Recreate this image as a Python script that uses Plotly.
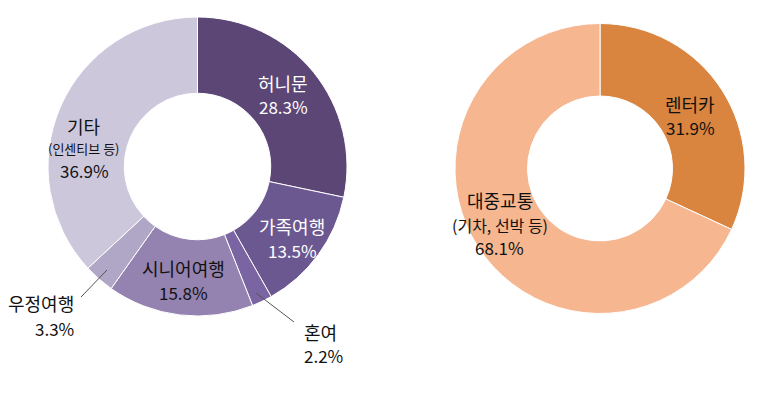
import plotly.graph_objects as go

W, H = 773, 394

# Left donut: travel type
travel_labels = ["허니문", "가족여행", "혼여", "시니어여행", "우정여행", "기타"]
travel_values = [28.3, 13.5, 2.2, 15.8, 3.3, 36.9]
travel_colors = ["#5c4676", "#6c5891", "#7a64a2", "#9482b0", "#b0a7c6", "#cdc7dc"]

# Right donut: transport
trans_labels = ["렌터카", "대중교통"]
trans_values = [31.9, 68.1]
trans_colors = ["#d9853f", "#f6b690"]

def px(x):
    return x / W

def py(y):
    return 1 - y / H

fig = go.Figure()

fig.add_trace(go.Pie(
    labels=travel_labels, values=travel_values, sort=False, direction="clockwise",
    hole=0.49, marker=dict(colors=travel_colors, line=dict(color="#ffffff", width=1)),
    textinfo="none", hoverinfo="none", showlegend=False,
    domain=dict(x=[px(48), px(347)], y=[py(316), py(17)]),
))
fig.add_trace(go.Pie(
    labels=trans_labels, values=trans_values, sort=False, direction="clockwise",
    hole=0.5, marker=dict(colors=trans_colors, line=dict(color="#ffffff", width=1)),
    textinfo="none", hoverinfo="none", showlegend=False,
    domain=dict(x=[px(455), px(745)], y=[py(313.5), py(23.5)]),
))

FONT = "Noto Sans CJK KR"
annotations = []
NAME = 18
PCT = 17

def add(text, x, y, color="#111111", size=NAME, xanchor="center"):
    annotations.append(dict(
        text=text, x=px(x), y=py(y), xref="paper", yref="paper",
        showarrow=False, xanchor=xanchor, yanchor="middle",
        font=dict(family=FONT, size=size, color=color),
    ))

pct = lambda v: f"{v}%"

# left labels
add(travel_labels[0], 283, 83, "#ffffff")
add(pct(travel_values[0]), 283, 107, "#ffffff", PCT)
add(travel_labels[1], 292, 226, "#ffffff")
add(pct(travel_values[1]), 292, 250, "#ffffff", PCT)
add(travel_labels[3], 183, 268)
add(pct(travel_values[3]), 183, 292, size=PCT)
add(travel_labels[4], 76, 303, xanchor="right")
add(pct(travel_values[4]), 76, 328, size=PCT, xanchor="right")
add(travel_labels[2], 302, 332, xanchor="left")
add(pct(travel_values[2]), 302, 355, size=PCT, xanchor="left")
add(travel_labels[5], 84, 126)
add("(인센티브 등)", 84, 148, size=13)
add(pct(travel_values[5]), 84, 170, size=PCT)

# right labels
add(trans_labels[0], 690, 104)
add(pct(trans_values[0]), 690, 127, size=PCT)
add(trans_labels[1], 500, 200)
add("(기차, 선박 등)", 500, 225, size=16)
add(pct(trans_values[1]), 500, 247, size=PCT)

shapes = [
    dict(type="line", xref="paper", yref="paper", x0=px(107), y0=py(270), x1=px(81), y1=py(297),
         line=dict(color="#555555", width=1)),
    dict(type="line", xref="paper", yref="paper", x0=px(256), y0=py(293), x1=px(294), y1=py(322),
         line=dict(color="#555555", width=1)),
]

fig.update_layout(
    width=W, height=H, margin=dict(l=0, r=0, t=0, b=0),
    paper_bgcolor="#ffffff", plot_bgcolor="#ffffff",
    annotations=annotations, shapes=shapes,
)

fig.write_html("out.html", config={"displayModeBar": False})
